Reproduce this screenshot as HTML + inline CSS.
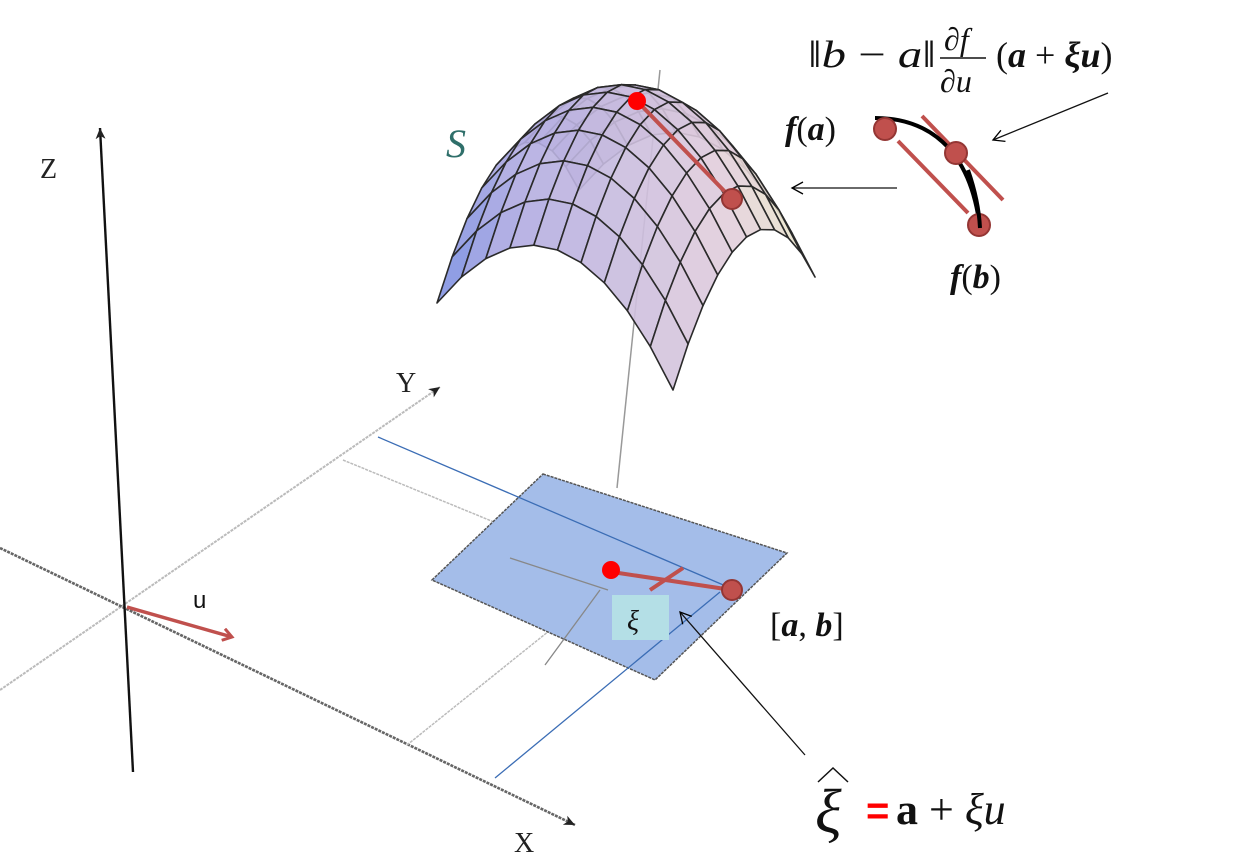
<!DOCTYPE html>
<html><head><meta charset="utf-8"><style>
html,body{margin:0;padding:0;background:#fff;}
svg{display:block}
text{font-family:"Liberation Serif",serif;}
</style></head><body>
<svg id="s" width="1244" height="866" viewBox="0 0 1244 866" xmlns="http://www.w3.org/2000/svg">
<defs>
<marker id="ah" markerWidth="12" markerHeight="10" refX="11" refY="5" orient="auto" markerUnits="userSpaceOnUse"><path d="M0,0 L11,5 L0,10 L3,5 Z" fill="#222"/></marker>
<marker id="oa" markerWidth="14" markerHeight="14" refX="12" refY="7" orient="auto" markerUnits="userSpaceOnUse"><path d="M1,1 L12,7 L1,13" fill="none" stroke="#000" stroke-width="1.3"/></marker>
<marker id="ra" markerWidth="14" markerHeight="14" refX="11" refY="7" orient="auto" markerUnits="userSpaceOnUse"><path d="M2,1 L11,7 L2,13" fill="none" stroke="#c0504d" stroke-width="3"/></marker>
</defs>
<!-- axes -->
<line x1="0" y1="690" x2="440" y2="387" stroke="#bbb" stroke-width="2" stroke-dasharray="3,1" marker-end="url(#ah)"/>
<line x1="0" y1="548" x2="575" y2="825" stroke="#666" stroke-width="2.6" stroke-dasharray="3,1" marker-end="url(#ah)"/>
<line x1="133" y1="772" x2="100" y2="128" stroke="#111" stroke-width="2.4" marker-end="url(#ah)"/>
<text x="40" y="178" font-size="28" fill="#222">Z</text>
<text x="396" y="392" font-size="28" fill="#222">Y</text>
<text x="514" y="852" font-size="28" fill="#222">X</text>
<!-- grid helper lines -->
<line x1="343" y1="460" x2="545" y2="543" stroke="#bbb" stroke-width="1.5" stroke-dasharray="3,1"/>
<line x1="407" y1="745" x2="600" y2="590" stroke="#bbb" stroke-width="1.5" stroke-dasharray="3,1"/>
<!-- blue square -->
<polygon points="543,474 787,553 655,680 432,580" fill="#a4bde9" stroke="#555" stroke-width="1.5" stroke-dasharray="3,1"/>
<line x1="510" y1="558" x2="608" y2="590" stroke="#888" stroke-width="1.3"/>
<line x1="545" y1="665" x2="600" y2="590" stroke="#888" stroke-width="1.3"/>
<line x1="378" y1="437" x2="735" y2="590" stroke="#3b6db5" stroke-width="1.3"/>
<line x1="495" y1="778" x2="720" y2="592" stroke="#3b6db5" stroke-width="1.3"/>
<!-- vertical line -->
<line x1="617" y1="488" x2="660" y2="70" stroke="#999" stroke-width="1.5"/>
<!-- surface -->
<g id="surf"></g>
<text x="446" y="157" font-size="40" font-style="italic" fill="#2f6f6a">S</text>
<!-- surface points -->
<line x1="637" y1="101" x2="732" y2="199" stroke="#c0504d" stroke-width="4"/>
<circle cx="637" cy="101" r="9" fill="#f00"/>
<circle cx="732" cy="199" r="10" fill="#c0504d" stroke="#943634" stroke-width="2"/>
<!-- u arrow -->
<line x1="127" y1="607" x2="232" y2="637" stroke="#c0504d" stroke-width="3.5" marker-end="url(#ra)"/>
<text x="193" y="608" font-size="24" fill="#111" style="font-family:'Liberation Sans',sans-serif">u</text>
<!-- segment on square -->
<line x1="612" y1="572" x2="732" y2="590" stroke="#c0504d" stroke-width="4"/>
<line x1="650" y1="590" x2="683" y2="568" stroke="#c0504d" stroke-width="4"/>
<circle cx="611" cy="570" r="9" fill="#f00"/>
<circle cx="732" cy="590" r="10" fill="#c0504d" stroke="#943634" stroke-width="2"/>
<rect x="612" y="595" width="57" height="45" fill="#b4dfe6"/>
<text x="627" y="630" font-size="28" font-style="italic" fill="#111">ξ</text>
<text x="770" y="636" font-size="34" fill="#111">[<tspan font-style="italic" font-weight="bold">a</tspan>, <tspan font-style="italic" font-weight="bold">b</tspan>]</text>
<line x1="805" y1="755" x2="680" y2="612" stroke="#111" stroke-width="1.3" marker-end="url(#oa)"/>
<!-- bottom formula -->
<text x="815" y="832" font-size="62" font-style="italic" fill="#111">ξ</text>
<path d="M818,782 L833,768 L848,782" fill="none" stroke="#111" stroke-width="1.5"/>
<text x="866" y="824" font-size="40" font-weight="bold" fill="#f00" style="font-family:'Liberation Sans',sans-serif">=</text>
<text x="896" y="824" font-size="44" fill="#111"><tspan font-weight="bold">a</tspan> + <tspan font-style="italic">ξu</tspan></text>
<!-- top right -->
<text x="808" y="67" font-size="38" fill="#111" textLength="128" lengthAdjust="spacingAndGlyphs">‖<tspan font-style="italic">b</tspan> − <tspan font-style="italic">a</tspan>‖</text>
<text x="944" y="50" font-size="32" font-style="italic" fill="#111">∂f</text>
<line x1="940" y1="58" x2="986" y2="58" stroke="#111" stroke-width="1.5"/>
<text x="940" y="92" font-size="32" font-style="italic" fill="#111">∂u</text>
<text x="996" y="67" font-size="36" fill="#111">(<tspan font-style="italic" font-weight="bold">a</tspan> + <tspan font-style="italic" font-weight="bold">ξu</tspan>)</text>
<text x="785" y="140" font-size="34" fill="#111"><tspan font-style="italic" font-weight="bold">f</tspan>(<tspan font-style="italic" font-weight="bold">a</tspan>)</text>
<text x="950" y="288" font-size="34" fill="#111"><tspan font-style="italic" font-weight="bold">f</tspan>(<tspan font-style="italic" font-weight="bold">b</tspan>)</text>
<line x1="898" y1="141" x2="968" y2="213" stroke="#c0504d" stroke-width="4"/>
<line x1="922" y1="116" x2="1003" y2="200" stroke="#c0504d" stroke-width="4"/>
<path d="M875,118 C925,118 970,145 980,228" fill="none" stroke="#000" stroke-width="4"/>
<circle cx="885" cy="129" r="11" fill="#c0504d" stroke="#943634" stroke-width="2"/>
<circle cx="956" cy="153" r="11" fill="#c0504d" stroke="#943634" stroke-width="2"/>
<circle cx="979" cy="225" r="11" fill="#c0504d" stroke="#943634" stroke-width="2"/>
<path d="M968,170 C975,190 979,208 980,228" fill="none" stroke="#000" stroke-width="4"/>
<line x1="897" y1="188" x2="792" y2="188" stroke="#111" stroke-width="1.3" marker-end="url(#oa)"/>
<line x1="1108" y1="93" x2="993" y2="140" stroke="#111" stroke-width="1.3" marker-end="url(#oa)"/>
</svg>
<script>
(function(){
var C=[626,290],U=[118,43.5],V=[71,-56.5],Z=[5,-193];
function P(u,v){var z=1-0.5*(u*u+v*v);return [C[0]+u*U[0]+v*V[0]+z*Z[0],C[1]+u*U[1]+v*V[1]+z*Z[1]];}
var N=10,quads=[];
for(var i=0;i<N;i++)for(var j=0;j<N;j++){
var u0=-1+2*i/N,u1=-1+2*(i+1)/N,v0=-1+2*j/N,v1=-1+2*(j+1)/N;
var pts=[P(u0,v0),P(u1,v0),P(u1,v1),P(u0,v1)];
var cx=(pts[0][0]+pts[1][0]+pts[2][0]+pts[3][0])/4;
var t=Math.max(0,Math.min(1,(cx-440)/375));
var r,g,b,k;
if(t<0.2){k=t/0.2;r=120+(175-120)*k;g=140+(170-140)*k;b=225+(225-225)*k;}
else if(t<0.75){k=(t-0.2)/0.55;r=175+(225-175)*k;g=170+(205-170)*k;b=225+(220-225)*k;}
else{k=(t-0.75)/0.25;r=225+(238-225)*k;g=205+(238-205)*k;b=220+(200-220)*k;}
quads.push({d:(u0+u1)/2-(v0+v1)/2,p:pts,c:'rgb('+Math.round(r)+','+Math.round(g)+','+Math.round(b)+')'});}
quads.sort(function(a,b){return a.d-b.d;});
var s='';
quads.forEach(function(q){s+='<polygon points="'+q.p.map(function(p){return p[0].toFixed(1)+','+p[1].toFixed(1)}).join(' ')+'" fill="'+q.c+'" fill-opacity="0.9" stroke="#2a2a2a" stroke-width="1.6" stroke-linejoin="round"/>';});
document.getElementById('surf').innerHTML=s;
})();
</script>
</body></html>
